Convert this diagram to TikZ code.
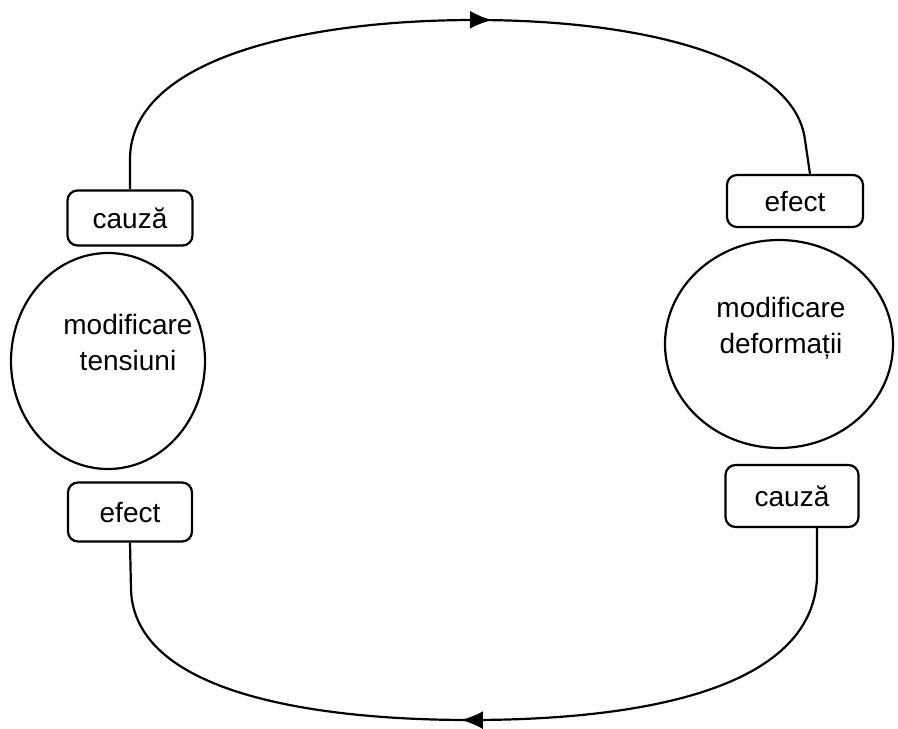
\documentclass[tikz,border=0pt]{standalone}
\usepackage{fontspec}
\setmainfont{Liberation Sans}
\usetikzlibrary{arrows.meta,decorations.markings,shapes.geometric}
\begin{document}
\begin{tikzpicture}[x=1pt,y=-1pt,
  lbl/.style={draw,line width=2.2pt,rounded corners=10pt,inner sep=0pt,
    font=\fontsize{28}{34}\selectfont},
  blob/.style={draw,line width=2.2pt,ellipse,inner sep=0pt},
  caption/.style={align=center,font=\fontsize{28}{36}\selectfont},
  loop/.style={line width=2.2pt,decoration={markings,
    mark=at position #1 with {\arrow{Latex[length=22pt,width=18pt]}}},postaction={decorate}}
]
\useasboundingbox (0,0) rectangle (898,729);

% state circles
\node[blob,minimum width=194pt,minimum height=216pt] (lc) at (108,361) {};
\node[blob,minimum width=228pt,minimum height=208pt] (rc) at (779,344) {};
\node[caption] (lt) at (128,342) {modificare\\tensiuni};
\node[caption] (rt) at (781,328) {modificare\\deformații};

% cause / effect tags
\node[lbl,minimum width=125pt,minimum height=55pt] (lcause) at (130,218) {cauză};
\node[lbl,minimum width=124pt,minimum height=59pt] (leff)   at (130,512) {efect};
\node[lbl,minimum width=136pt,minimum height=52pt] (reff)   at (795,201) {efect};
\node[lbl,minimum width=133pt,minimum height=62pt] (rcause) at (792,496) {cauză};

% feedback loop
\draw[loop=0.535] (lcause.north) -- ++(0,-30)
  .. controls (130,60) and (300,20) .. (475,20)
  .. controls (650,20) and (795,60) .. (805,140)
  -- ([xshift=15pt]reff.north);
\draw[loop=0.52] ([xshift=25pt]rcause.south) -- ++(0,50)
  .. controls (812,690) and (640,720) .. (470,720)
  .. controls (320,720) and (135,695) .. (131,590)
  -- (leff.south);
\end{tikzpicture}
\end{document}
